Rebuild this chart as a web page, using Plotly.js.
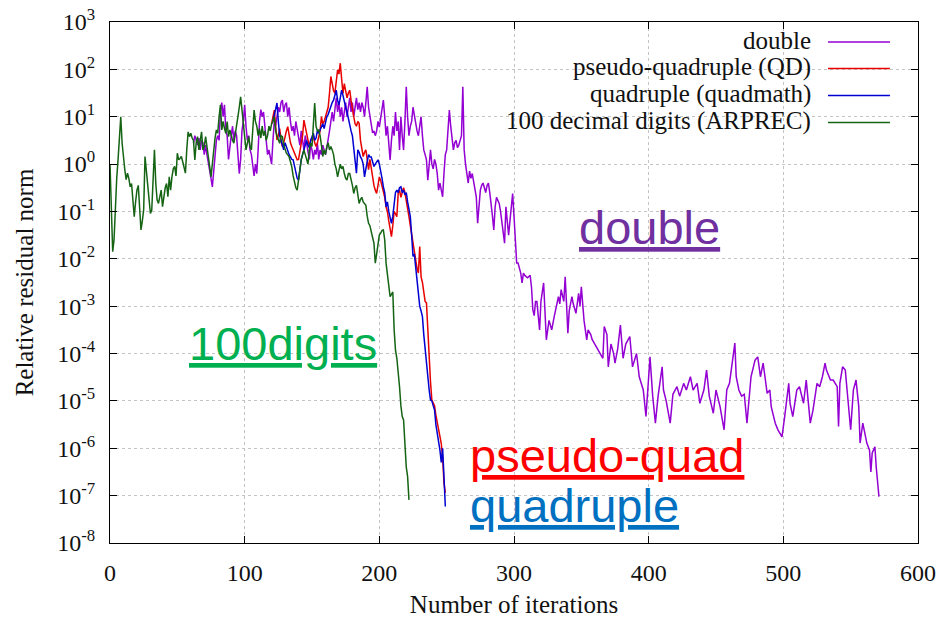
<!DOCTYPE html>
<html>
<head>
<meta charset="utf-8">
<script src="https://cdn.plot.ly/plotly-3.0.1.min.js"></script>
<style>
  html, body { margin: 0; padding: 0; background: #ffffff; }
  #chart { width: 952px; height: 618px; }
</style>
</head>
<body>
<div id="chart"></div>
<script>
// Convergence history of the solver in four arithmetic precisions.
// Residuals are stored as log10 of the relative residual norm per iteration.

const seriesNames = ['double', 'pseudo-quadruple (QD)', 'quadruple (quadmath)', '100 decimal digits (ARPREC)'];
const seriesColors = ['#9400d3', '#e80000', '#0000d2', '#146414'];

// double precision (iterations listed explicitly; sampled more sparsely after 308)
const doubleIter = [
  62,63,64,65,66,67,68,69,70,71,72,73,74,75,76,77,78,79,80,81,
  82,83,84,85,86,87,88,89,90,91,92,93,94,95,96,97,98,99,100,101,
  102,103,104,105,106,107,108,109,110,111,112,113,114,115,116,117,118,119,120,121,
  122,123,124,125,126,127,128,129,130,131,132,133,134,135,136,137,138,139,140,141,
  142,143,144,145,146,147,148,149,150,151,152,153,154,155,156,157,158,159,160,161,
  162,163,164,165,166,167,168,169,170,171,172,173,174,175,176,177,178,179,180,181,
  182,183,184,185,186,187,188,189,190,191,192,193,194,195,196,197,198,199,200,201,
  202,203,204,205,206,207,208,209,210,211,212,213,214,215,216,217,218,219,220,221,
  222,223,224,225,226,227,228,229,230,231,232,233,234,235,236,237,238,239,240,241,
  242,243,244,245,246,247,248,249,250,251,252,253,254,255,256,257,258,259,260,261,
  262,263,264,265,266,267,268,269,270,271,272,273,274,275,276,277,278,279,280,281,
  282,283,284,285,286,287,288,289,290,291,292,293,294,295,296,297,298,299,300,301,
  302,303,304,305,306,307,308,310,312,313,314,315,316,317,319,320,322,323,324,326,
  328,330,333,334,335,337,338,339,340,341,343,344,346,348,349,350,351,352,354,355,
  357,358,360,362,364,366,367,369,370,372,374,375,377,379,381,383,386,388,391,393,
  396,398,400,401,403,405,407,410,411,413,416,418,421,423,426,428,431,433,436,438,
  441,443,445,448,450,453,456,458,460,462,464,465,467,469,471,473,475,476,479,481,
  483,485,488,490,491,494,496,499,501,504,505,507,510,512,515,517,520,522,525,527,
  529,531,532,535,537,540,541,542,544,546,548,550,552,554,556,557,559,562,564,565,
  566,568,569,571
];
const doubleExp = [
  0.44,0.6,0.51,0.4,0.55,0.3,0.5,0.45,0.2,0.4,0.2,0.0,-0.2,-0.3,-0.48,-0.2,0.2,0.5,0.6,0.5,
  1.1,1.3,1.0,1.25,0.7,0.6,0.1,0.4,0.6,0.8,0.5,0.7,0.6,0.2,-0.2,0.1,0.7,0.9,1.25,0.8,
  0.5,0.6,0.3,0.2,0.0,-0.25,0.0,-0.2,0.3,0.9,1.15,1.0,1.1,0.8,0.37,0.2,0.3,0.1,0.0,0.5,
  0.9,0.8,1.0,1.2,1.1,1.3,1.35,1.1,1.25,1.3,1.0,1.2,0.9,0.7,0.8,0.6,0.9,0.75,0.6,0.4,
  0.7,0.5,0.3,0.6,0.4,0.2,0.1,0.4,0.3,0.1,0.3,0.2,0.45,0.1,0.3,0.2,0.4,0.3,0.2,0.35,
  0.5,0.7,0.9,1.1,0.9,1.2,1.4,1.1,1.3,1.0,1.2,0.9,1.1,1.3,1.0,1.2,1.4,1.1,1.3,1.0,
  1.2,1.4,1.15,1.3,1.1,1.3,1.2,1.0,1.3,1.63,1.2,1.0,0.8,0.66,0.7,0.6,0.7,0.9,0.78,1.0,
  1.2,1.35,1.0,0.6,0.8,0.4,0.09,0.5,0.8,0.6,1.1,0.7,0.9,0.3,1.0,0.6,0.3,0.9,1.63,1.0,
  0.6,0.8,0.9,1.2,1.0,0.8,0.7,0.6,0.8,1.0,0.6,0.3,0.2,0.09,-0.34,0.1,0.3,0.0,-0.1,0.1,
  0.0,-0.2,-0.55,-0.4,-0.6,-0.69,-0.2,0.2,0.3,0.7,1.14,0.8,0.6,0.3,0.45,0.5,0.35,0.4,0.5,0.6,
  1.63,0.3,0.0,-0.2,-0.4,-0.15,-0.3,-0.2,-0.34,-0.5,-0.69,-1.25,-0.8,-0.55,-0.45,-0.4,-0.5,-0.6,-0.45,-0.4,
  -0.6,-0.8,-1.1,-1.39,-0.9,-0.7,-0.75,-0.83,-1.0,-1.2,-1.39,-1.67,-0.9,-1.2,-1.5,-1.2,-0.8,-0.62,-1.1,-1.6,
  -2.09,-2.09,-2.2,-2.3,-2.51,-2.3,-2.35,-2.4,-2.35,-2.6,-3.08,-3.2,-2.9,-2.9,-3.5,-2.9,-2.51,-3.0,-3.71,-3.3,
  -3.5,-3.2,-2.8,-2.95,-2.65,-2.9,-2.38,-2.95,-3.57,-3.1,-2.8,-2.95,-3.15,-2.73,-3.0,-2.59,-3.0,-3.3,-3.71,-3.5,
  -3.6,-3.7,-3.8,-3.9,-4.0,-4.1,-3.43,-3.6,-4.28,-3.8,-4.0,-4.2,-3.9,-3.4,-4.1,-3.8,-3.64,-4.28,-4.0,-4.49,
  -4.77,-5.33,-4.49,-4.07,-4.9,-5.47,-4.9,-4.28,-4.77,-5.0,-5.47,-4.86,-4.7,-4.9,-4.63,-4.77,-4.49,-4.77,-4.63,-5.05,
  -4.77,-4.35,-4.9,-5.26,-4.77,-5.12,-5.61,-4.77,-4.63,-4.2,-3.78,-4.49,-4.77,-4.9,-4.86,-5.47,-4.7,-4.49,-4.14,-4.07,
  -4.49,-4.2,-4.84,-4.77,-5.12,-5.47,-5.61,-5.76,-5.33,-4.63,-5.05,-5.33,-4.77,-4.7,-5.05,-4.56,-5.47,-5.2,-4.63,-4.7,
  -4.49,-4.2,-4.35,-4.56,-4.56,-4.7,-5.54,-4.63,-4.28,-4.35,-4.98,-5.61,-4.77,-4.56,-5.12,-5.89,-5.47,-5.89,-6.04,-6.5,
  -6.1,-5.97,-6.4,-7.02
];

// pseudo-quadruple (QD), one value per iteration from qdFirstIter
const qdFirstIter = 120;
const qdExp = [
  0.85,1.0,1.14,0.8,0.51,0.6,0.75,0.5,0.37,0.45,
  0.6,0.7,0.79,0.6,0.45,0.37,0.3,0.23,0.15,0.09,
  0.1,0.25,0.4,0.6,0.93,0.8,0.7,0.5,0.37,0.5,
  0.55,0.6,0.45,0.37,0.45,0.6,0.7,1.0,0.85,0.9,
  1.0,1.1,1.2,1.5,1.85,1.7,1.55,1.5,1.75,1.99,
  1.9,2.13,1.8,1.49,1.7,1.55,1.4,1.5,1.56,1.35,
  1.14,1.0,0.85,0.8,0.9,0.86,0.5,0.3,0.16,0.25,
  0.3,0.1,-0.12,0.1,-0.1,-0.34,-0.45,-0.55,-0.62,-0.45,
  -0.27,-0.35,-0.45,-0.55,-0.7,-0.9,-1.0,-1.2,-1.39,-1.53,
  -1.3,-1.0,-1.05,-1.11,-0.62,-0.55,-0.7,-0.6,-0.5,-0.6,
  -0.75,-0.9,-1.11,-1.3,-1.5,-1.7,-1.9,-2.0,-2.2,-2.3,
  -1.74,-2.38,-2.5,-2.7,-2.9,-2.93,-3.57,-4.28,-4.6,-4.98,
  -5.05,-5.1,-5.3,-5.5,-5.6,-5.75,-5.9,-6.2,-6.73,-6.94
];

// quadruple (quadmath), one value per iteration from quadFirstIter
const quadFirstIter = 121;
const quadExp = [
  0.9,1.05,1.2,1.29,0.9,0.6,0.5,0.4,0.3,0.45,
  0.35,0.3,0.2,0.15,0.1,0.09,-0.05,-0.2,-0.3,-0.34,
  -0.1,0.1,0.2,0.3,0.4,0.5,0.4,0.35,0.5,0.6,
  0.65,0.5,0.55,0.7,0.65,0.72,0.8,0.85,0.75,0.9,
  1.0,1.05,1.14,1.2,1.3,1.35,1.45,1.56,1.35,1.25,
  1.4,1.56,1.45,1.3,1.2,1.1,0.95,0.79,0.7,0.6,
  0.3,0.0,-0.19,0.3,0.25,0.15,0.1,0.0,-0.27,-0.1,
  0.1,0.2,0.15,0.15,0.05,-0.05,0.0,0.05,0.09,0.0,
  -0.2,-0.3,-0.48,-0.6,-0.9,-0.8,-1.0,-1.1,-1.25,-1.1,
  -0.8,-0.6,-0.55,-0.6,-0.5,-0.48,-0.6,-0.55,-0.65,-0.6,
  -0.8,-1.0,-1.11,-1.5,-1.95,-1.9,-2.17,-2.4,-2.8,-3.0,
  -3.1,-3.22,-3.6,-3.93,-4.28,-4.56,-4.77,-4.98,-5.0,-5.1,
  -5.19,-5.5,-5.68,-5.8,-6.04,-6.3,-6.0,-6.6,-7.23
];

// 100 decimal digits (ARPREC), one value per iteration from arprecFirstIter
const arprecFirstIter = 0;
const arprecExp = [
  0.0,-0.97,-1.85,-1.6,-0.8,-0.3,0.1,0.6,1.0,0.44,
  0.09,-0.12,-0.33,-0.19,-0.3,-0.48,-0.41,-0.69,-1.11,-0.8,
  -0.55,-0.45,-0.83,-1.39,-1.2,-0.97,0.16,-0.12,-0.55,-0.8,
  -1.04,-0.97,-0.41,0.3,-0.41,-0.76,-0.83,-0.7,-0.55,-0.9,
  -0.69,-0.5,-0.41,-0.69,-0.27,-0.55,-0.27,-0.1,-0.05,-0.25,
  0.23,0.09,0.12,0.16,0.05,-0.05,-0.19,0.3,0.68,0.58,
  0.65,0.55,0.5,0.09,0.45,0.58,0.3,0.5,0.68,0.3,
  0.37,0.58,0.3,0.16,-0.05,-0.27,0.0,0.3,0.55,0.72,
  0.65,1.0,1.25,0.72,0.9,0.75,0.65,0.9,0.58,0.72,
  0.58,0.5,0.44,0.6,0.85,1.0,1.2,1.42,1.15,0.8,
  0.58,0.3,0.44,0.58,0.37,0.3,0.72,1.14,0.9,0.8,
  0.6,0.75,0.55,0.8,0.6,0.7,0.5,0.6,0.8,0.7,
  0.85,0.9,1.0,0.7,0.6,0.5,0.44,0.6,0.58,0.4,
  0.3,0.23,0.2,0.15,0.05,-0.06,-0.25,-0.4,-0.5,-0.55,
  -0.3,-0.1,0.09,0.2,0.3,0.2,0.1,0.0,0.3,0.44,
  0.37,0.8,1.29,0.8,0.7,0.72,0.6,0.4,0.16,0.3,
  0.2,0.37,0.45,0.3,0.37,0.3,0.2,0.0,-0.1,-0.27,
  -0.1,0.0,-0.1,-0.05,-0.2,-0.3,-0.34,-0.2,-0.2,-0.3,
  -0.45,-0.62,-0.5,-0.45,-0.6,-0.83,-0.75,-0.7,-0.8,-0.85,
  -0.87,-1.1,-1.25,-1.3,-1.4,-1.55,-1.67,-2.09,-1.9,-1.7,
  -1.5,-1.46,-1.4,-1.39,-1.6,-2.09,-2.3,-2.51,-2.8,-2.75,
  -2.7,-3.5,-3.93,-4.1,-4.35,-4.7,-5.1,-5.33,-5.4,-6.04,
  -6.4,-6.6,-7.09
];

// axis ticks
const xTickVals = [0, 100, 200, 300, 400, 500, 600];
const yTickExps = [-8, -7, -6, -5, -4, -3, -2, -1, 0, 1, 2, 3];
const yTickVals = yTickExps.map(p => Math.pow(10, p));
const yTickText = yTickExps.map(p => '10<sup>' + p + '</sup>');

// large coloured callout labels
const calloutText = ['double', '100digits', 'pseudo-quad', 'quadruple'];
const calloutColor = ['#7030a0', '#00b050', '#ff0000', '#0070c0'];

const serif = 'Liberation Serif, Times New Roman, serif';
const sans = 'Liberation Sans, Arial, sans-serif';

function consecutive(first, n) {
  const out = [];
  for (let i = 0; i < n; i++) out.push(first + i);
  return out;
}
const toResidual = arr => arr.map(e => Math.pow(10, e));

const seriesX = [
  doubleIter,
  consecutive(qdFirstIter, qdExp.length),
  consecutive(quadFirstIter, quadExp.length),
  consecutive(arprecFirstIter, arprecExp.length)
];
const seriesY = [doubleExp, qdExp, quadExp, arprecExp].map(toResidual);

const traces = seriesNames.map((name, i) => ({
  type: 'scatter',
  mode: 'lines',
  name: name,
  x: seriesX[i],
  y: seriesY[i],
  line: { color: seriesColors[i], width: 1.5 },
  hoverinfo: 'skip',
  showlegend: false
}));

// key drawn gnuplot-style: right-aligned text followed by a line sample
const keyY = [0.9616, 0.9107, 0.8589, 0.8071];
const shapes = [{
  type: 'rect', xref: 'paper', yref: 'paper',
  x0: 0.426, x1: 0.998, y0: 0.777, y1: 0.998,
  fillcolor: '#ffffff', line: { width: 0 }, layer: 'between'
}];
const annotations = [];
seriesNames.forEach((name, i) => {
  annotations.push({
    xref: 'paper', yref: 'paper', x: 0.870, y: keyY[i] + 0.003,
    xanchor: 'right', yanchor: 'middle', showarrow: false,
    text: name, font: { family: serif, size: 25, color: '#111111' }
  });
  shapes.push({
    type: 'line', xref: 'paper', yref: 'paper',
    x0: 0.8886, x1: 0.9653, y0: keyY[i], y1: keyY[i],
    line: { color: seriesColors[i], width: 1.5 }
  });
});

const calloutPos = [[0.578, 0.6065], [0.0953, 0.382], [0.443, 0.167], [0.443, 0.0725]];
calloutText.forEach((t, i) => {
  annotations.push({
    xref: 'paper', yref: 'paper', x: calloutPos[i][0], y: calloutPos[i][1],
    xanchor: 'left', yanchor: 'middle', showarrow: false,
    text: '<u>' + t + '</u>',
    font: { family: sans, size: 47, color: calloutColor[i] }
  });
});

const axisCommon = {
  ticks: 'inside', ticklen: 7, tickwidth: 1, tickcolor: '#000000',
  mirror: 'allticks', showline: true, linecolor: '#000000', linewidth: 1,
  showgrid: true, gridcolor: '#c4c4c4', griddash: 'dot', gridwidth: 1,
  zeroline: false,
  tickfont: { family: serif, size: 24, color: '#111111' }
};

const layout = {
  width: 952, height: 618,
  margin: { l: 110, r: 34, t: 22, b: 75 },
  paper_bgcolor: '#ffffff', plot_bgcolor: '#ffffff',
  showlegend: false,
  xaxis: Object.assign({}, axisCommon, {
    range: [0, 600], tickmode: 'array', tickvals: xTickVals,
    ticklabelstandoff: 8,
    title: { text: 'Number of iterations', font: { family: serif, size: 25, color: '#111111' }, standoff: 11 }
  }),
  yaxis: Object.assign({}, axisCommon, {
    type: 'log', range: [-8, 3], tickmode: 'array',
    tickvals: yTickVals, ticktext: yTickText,
    ticklabelstandoff: 9,
    title: { text: 'Relative residual norm', font: { family: serif, size: 25, color: '#111111' }, standoff: 16 }
  }),
  shapes: shapes,
  annotations: annotations
};

Plotly.newPlot('chart', traces, layout, { staticPlot: true, displayModeBar: false });
</script>
</body>
</html>
